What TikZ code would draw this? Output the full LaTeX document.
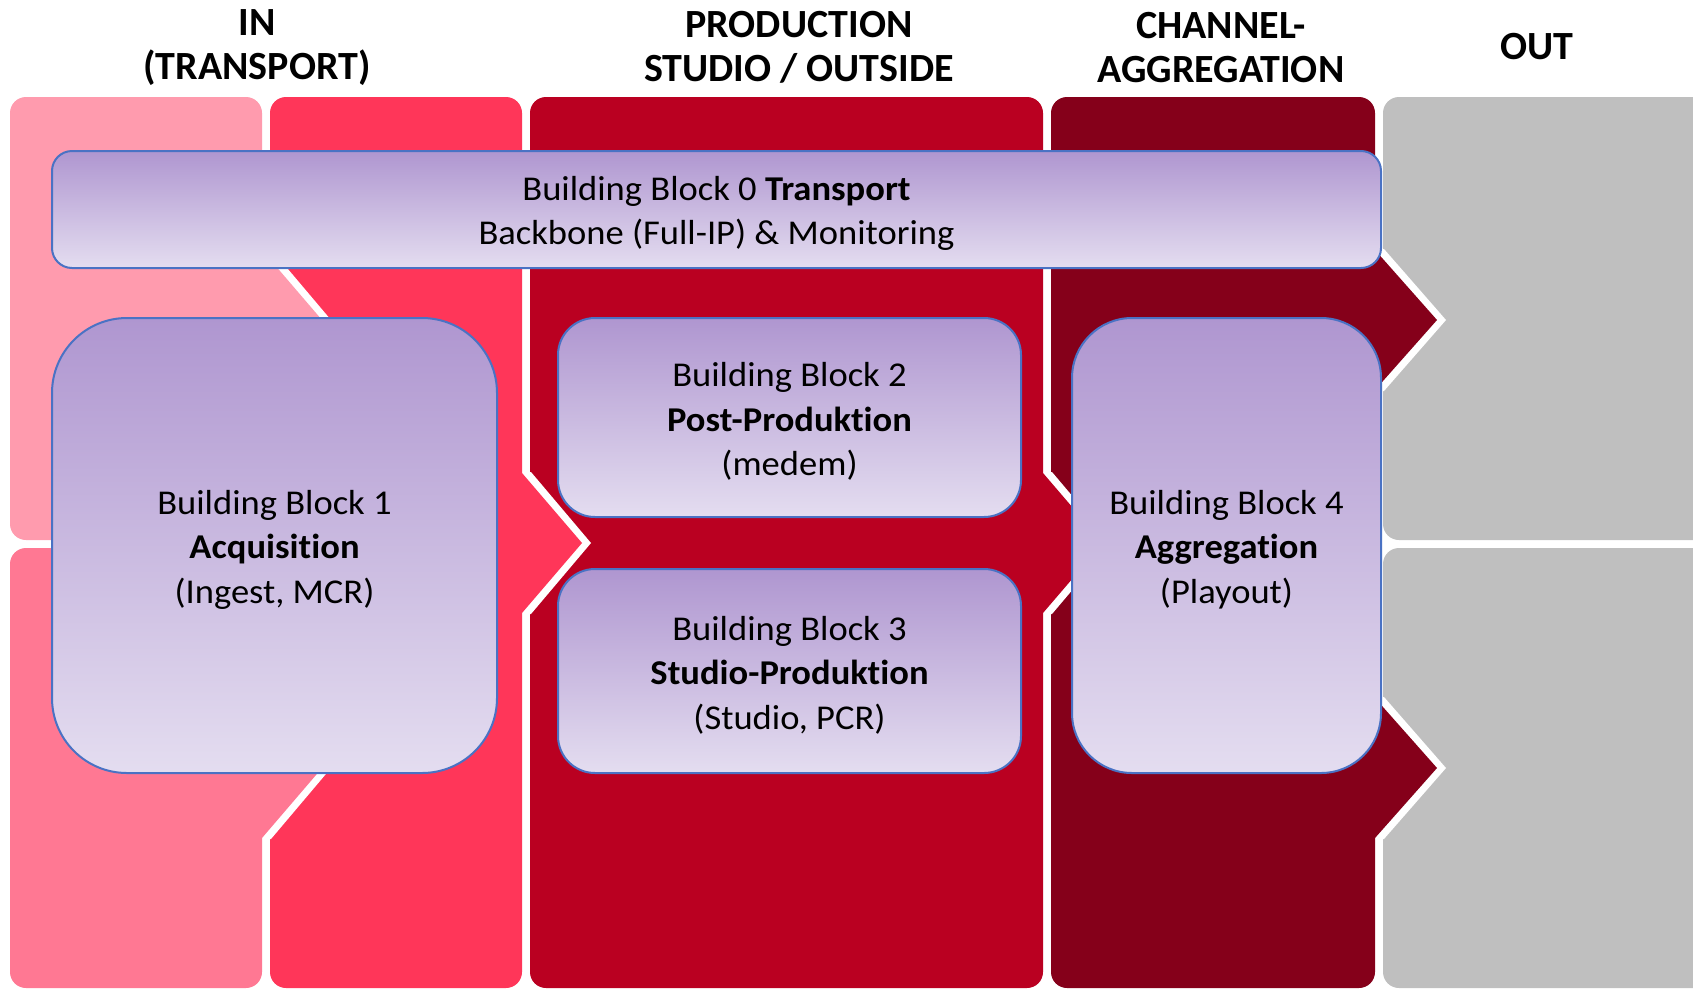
\documentclass[tikz,border=0pt]{standalone}
\usepackage{fontspec}
\setmainfont{Carlito}[Ligatures=NoCommon]
\newfontfamily\bodyfont{Carlito}[FakeStretch=1.05, Ligatures=NoCommon]
\definecolor{cOneA}{HTML}{FF9BAE}
\definecolor{cOneB}{HTML}{FF7893}
\definecolor{cTwo}{HTML}{FF3659}
\definecolor{cThree}{HTML}{BA0021}
\definecolor{cFour}{HTML}{85001A}
\definecolor{cFive}{HTML}{BFBFBF}
\definecolor{bbtop}{HTML}{AF96D0}
\definecolor{bbbot}{HTML}{E4DDF0}
\definecolor{bbline}{HTML}{4A72C4}
\begin{document}
\begin{tikzpicture}[x=1pt,y=-1pt,
  colbox/.style={rounded corners=16pt},
  bbox/.style={draw=bbline, line width=2pt, top color=bbtop, bottom color=bbbot, inner sep=0pt},
  bbtext/.style={align=center, font=\bodyfont\fontsize{34.8}{44.4}\selectfont, inner sep=0pt, yshift=-4pt},
  coltitle/.style={align=center, font=\fontsize{40}{44}\selectfont\bfseries}
]
\useasboundingbox (0,0) rectangle (1693,988);
\begin{scope}
\clip (0,0) rectangle (1693,988);
% column bodies
\fill[cOneA, colbox] (10,97) rectangle (262,540);
\fill[cOneB, colbox] (10,548) rectangle (262,988);
\fill[cTwo, colbox] (270,97) rectangle (522,988);
\fill[cThree, colbox] (530,97) rectangle (1043,988);
\fill[cFour, colbox] (1051,97) rectangle (1375,988);
\fill[cFive, colbox] (1383,97) rectangle (1730,540);
\fill[cFive, colbox] (1383,548) rectangle (1730,988);
% notches
\fill[white] (269,249) -- (271,249) -- (331,320) -- (271,391) -- (269,391) -- cycle;
\fill[white] (269,697) -- (271,697) -- (331,768) -- (271,839) -- (269,839) -- cycle;
\fill[white] (529,472) -- (531,472) -- (591,543) -- (531,614) -- (529,614) -- cycle;
\fill[white] (1050,472) -- (1052,472) -- (1112,543) -- (1052,614) -- (1050,614) -- cycle;
\fill[white] (1382,249) -- (1384,249) -- (1446,320) -- (1384,391) -- (1382,391) -- cycle;
\fill[white] (1382,697) -- (1384,697) -- (1446,768) -- (1384,839) -- (1382,839) -- cycle;
% tips
\fill[cOneA] (255,250) -- (262,250) -- (322,320) -- (262,390) -- (255,390) -- cycle;
\fill[cOneB] (255,698) -- (262,698) -- (322,768) -- (262,838) -- (255,838) -- cycle;
\fill[cTwo] (515,473) -- (522,473) -- (582,543) -- (522,613) -- (515,613) -- cycle;
\fill[cThree] (1036,473) -- (1043,473) -- (1103,543) -- (1043,613) -- (1036,613) -- cycle;
\fill[cFour] (1368,250) -- (1375,250) -- (1437,320) -- (1375,390) -- (1368,390) -- cycle;
\fill[cFour] (1368,698) -- (1375,698) -- (1437,768) -- (1375,838) -- (1368,838) -- cycle;
\end{scope}
% titles
\node[coltitle] (tIn) at (257,47.5) {IN\\(TRANSPORT)};
\node[coltitle] (tProd) at (799,47.5) {PRODUCTION\\STUDIO / OUTSIDE};
\node[coltitle] (tChan) at (1221,47.5) {CHANNEL-\\AGGREGATION};
\node[coltitle] (tOut) at (1537,47) {OUT};
% building blocks
\node[bbox, rounded corners=20pt, minimum width=1329pt, minimum height=117pt] (bb0) at (716.5,209.5) {};
\node[bbtext] (bb0t) at (bb0.center) {Building Block 0 \textbf{Transport}\\Backbone (Full-IP) \& Monitoring};
\node[bbox, rounded corners=75pt, minimum width=445pt, minimum height=455pt] (bb1) at (274.5,545.5) {};
\node[bbtext] (bb1t) at (bb1.center) {Building Block 1\\\textbf{Acquisition}\\(Ingest, MCR)};
\node[bbox, rounded corners=37pt, minimum width=463pt, minimum height=199pt] (bb2) at (789.5,417.5) {};
\node[bbtext] (bb2t) at (bb2.center) {Building Block 2\\\textbf{Post-Produktion}\\(medem)};
\node[bbox, rounded corners=37pt, minimum width=463pt, minimum height=204pt] (bb3) at (789.5,671) {};
\node[bbtext] (bb3t) at (bb3.center) {Building Block 3\\\textbf{Studio-Produktion}\\(Studio, PCR)};
\node[bbox, rounded corners=60pt, minimum width=309pt, minimum height=455pt] (bb4) at (1226.5,545.5) {};
\node[bbtext] (bb4t) at (bb4.center) {Building Block 4\\\textbf{Aggregation}\\(Playout)};
\end{tikzpicture}
\end{document}
